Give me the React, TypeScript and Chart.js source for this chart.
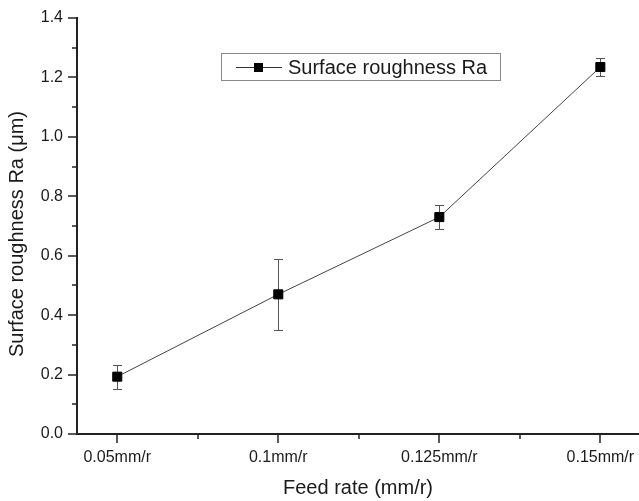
import React, { useEffect, useRef } from 'react';
import { Chart, registerables } from 'chart.js';

Chart.register(...registerables);

const categories = ['0.05mm/r', '0.1mm/r', '0.125mm/r', '0.15mm/r'];
const roughness = [0.193, 0.47, 0.73, 1.235];
const roughnessError = [0.04, 0.12, 0.04, 0.03];
const seriesLabel = 'Surface roughness Ra';
const xTitle = 'Feed rate (mm/r)';
const yTitle = 'Surface roughness Ra (μm)';
const yTickValues = [0, 0.1, 0.2, 0.3, 0.4, 0.5, 0.6, 0.7, 0.8, 0.9, 1.0, 1.1, 1.2, 1.3, 1.4];
const xTickValues = [0, 0.5, 1, 1.5, 2, 2.5, 3];

const FONT = "'Liberation Sans', Arial, sans-serif";
const TEXT = '#1a1a1a';

const originPlugin = {
  id: 'originStyle',
  beforeDatasetsDraw(chart: any) {
    const { ctx, scales } = chart;
    const x = scales.x;
    const y = scales.y;
    ctx.save();
    ctx.strokeStyle = '#555';
    ctx.lineWidth = 1;
    roughness.forEach((v, i) => {
      const px = Math.round(x.getPixelForValue(i)) + 0.5;
      const top = Math.round(y.getPixelForValue(v + roughnessError[i])) + 0.5;
      const bot = Math.round(y.getPixelForValue(v - roughnessError[i])) + 0.5;
      ctx.beginPath();
      ctx.moveTo(px, top);
      ctx.lineTo(px, bot);
      ctx.moveTo(px - 4.5, top);
      ctx.lineTo(px + 4.5, top);
      ctx.moveTo(px - 4.5, bot);
      ctx.lineTo(px + 4.5, bot);
      ctx.stroke();
    });
    ctx.restore();
  },
  afterDraw(chart: any) {
    const { ctx, scales, chartArea } = chart;
    const x = scales.x;
    const y = scales.y;
    ctx.save();
    ctx.strokeStyle = '#222';
    ctx.lineWidth = 1.5;
    yTickValues.forEach((v, k) => {
      const py = Math.round(y.getPixelForValue(v));
      const len = k % 2 === 0 ? 9 : 5;
      ctx.beginPath();
      ctx.moveTo(chartArea.left, py);
      ctx.lineTo(chartArea.left - len, py);
      ctx.stroke();
    });
    xTickValues.forEach((v, k) => {
      const px = Math.round(x.getPixelForValue(v));
      const len = k % 2 === 0 ? 9 : 5;
      ctx.beginPath();
      ctx.moveTo(px, chartArea.bottom);
      ctx.lineTo(px, chartArea.bottom + len);
      ctx.stroke();
    });
    ctx.fillStyle = TEXT;
    ctx.font = `20px ${FONT}`;
    ctx.textAlign = 'center';
    ctx.textBaseline = 'middle';
    ctx.translate(17, 234);
    ctx.rotate(-Math.PI / 2);
    ctx.fillText(yTitle, 0, 0);
    ctx.restore();

    ctx.save();
    ctx.strokeStyle = '#888';
    ctx.lineWidth = 1;
    ctx.strokeRect(221.5, 53.5, 279, 27);
    ctx.strokeStyle = '#333';
    ctx.beginPath();
    ctx.moveTo(236, 67.5);
    ctx.lineTo(282, 67.5);
    ctx.stroke();
    ctx.fillStyle = '#000';
    ctx.fillRect(254, 63, 9, 9);
    ctx.fillStyle = TEXT;
    ctx.font = `20px ${FONT}`;
    ctx.textAlign = 'left';
    ctx.textBaseline = 'middle';
    ctx.fillText(seriesLabel, 288, 68);
    ctx.restore();
  },
};

export default function App() {
  const canvasRef = useRef<HTMLCanvasElement | null>(null);

  useEffect(() => {
    if (!canvasRef.current) return;
    const chart = new Chart(canvasRef.current, {
      type: 'line',
      data: {
        datasets: [
          {
            label: seriesLabel,
            data: roughness.map((v, i) => ({ x: i, y: v })),
            borderColor: '#444',
            borderWidth: 1,
            tension: 0,
            pointStyle: 'rect',
            pointRadius: 6.4,
            pointBackgroundColor: '#000',
            pointBorderColor: '#000',
            pointBorderWidth: 1,
            fill: false,
          },
        ],
      },
      options: {
        responsive: false,
        animation: false,
        devicePixelRatio: 1,
        layout: { autoPadding: false, padding: { top: 18, right: 0, bottom: 0, left: 0 } },
        plugins: {
          legend: { display: false },
          tooltip: { enabled: false },
        },
        scales: {
          x: {
            type: 'linear',
            min: -0.25,
            max: 3.24,
            afterBuildTicks: (scale: any) => {
              scale.ticks = xTickValues.map((v) => ({ value: v }));
            },
            afterFit: (scale: any) => {
              scale.height = 67;
              scale.paddingLeft = 0;
              scale.paddingRight = 0;
            },
            ticks: {
              autoSkip: false,
              maxRotation: 0,
              padding: 0,
              color: TEXT,
              font: { family: FONT, size: 16 },
              callback: (value: any) => {
                const v = Number(value);
                return Number.isInteger(v) ? categories[v] : '';
              },
            },
            grid: {
              display: true,
              drawOnChartArea: false,
              drawTicks: true,
              tickLength: 14,
              color: 'transparent',
            },
            border: { display: true, color: '#222', width: 2 },
            title: {
              display: true,
              text: xTitle,
              color: TEXT,
              font: { family: FONT, size: 20 },
              padding: { top: 0, bottom: 1 },
            },
          },
          y: {
            type: 'linear',
            min: 0,
            max: 1.4,
            afterBuildTicks: (scale: any) => {
              scale.ticks = yTickValues.map((v) => ({ value: v }));
            },
            afterFit: (scale: any) => {
              scale.width = 77;
              scale.paddingTop = 0;
              scale.paddingBottom = 0;
            },
            ticks: {
              autoSkip: false,
              padding: 0,
              color: TEXT,
              font: { family: FONT, size: 16 },
              callback: (value: any, index: number) =>
                index % 2 === 0 ? Number(value).toFixed(1) : '',
            },
            grid: {
              display: true,
              drawOnChartArea: false,
              drawTicks: true,
              tickLength: 14,
              color: 'transparent',
            },
            border: { display: true, color: '#222', width: 2 },
            title: { display: false },
          },
        },
      },
      plugins: [originPlugin],
    });
    return () => chart.destroy();
  }, []);

  return (
    <div style={{ position: 'fixed', left: 0, top: 0, width: 639, height: 501, background: '#fff' }}>
      <canvas ref={canvasRef} width={639} height={501} style={{ width: 639, height: 501 }} />
    </div>
  );
}
